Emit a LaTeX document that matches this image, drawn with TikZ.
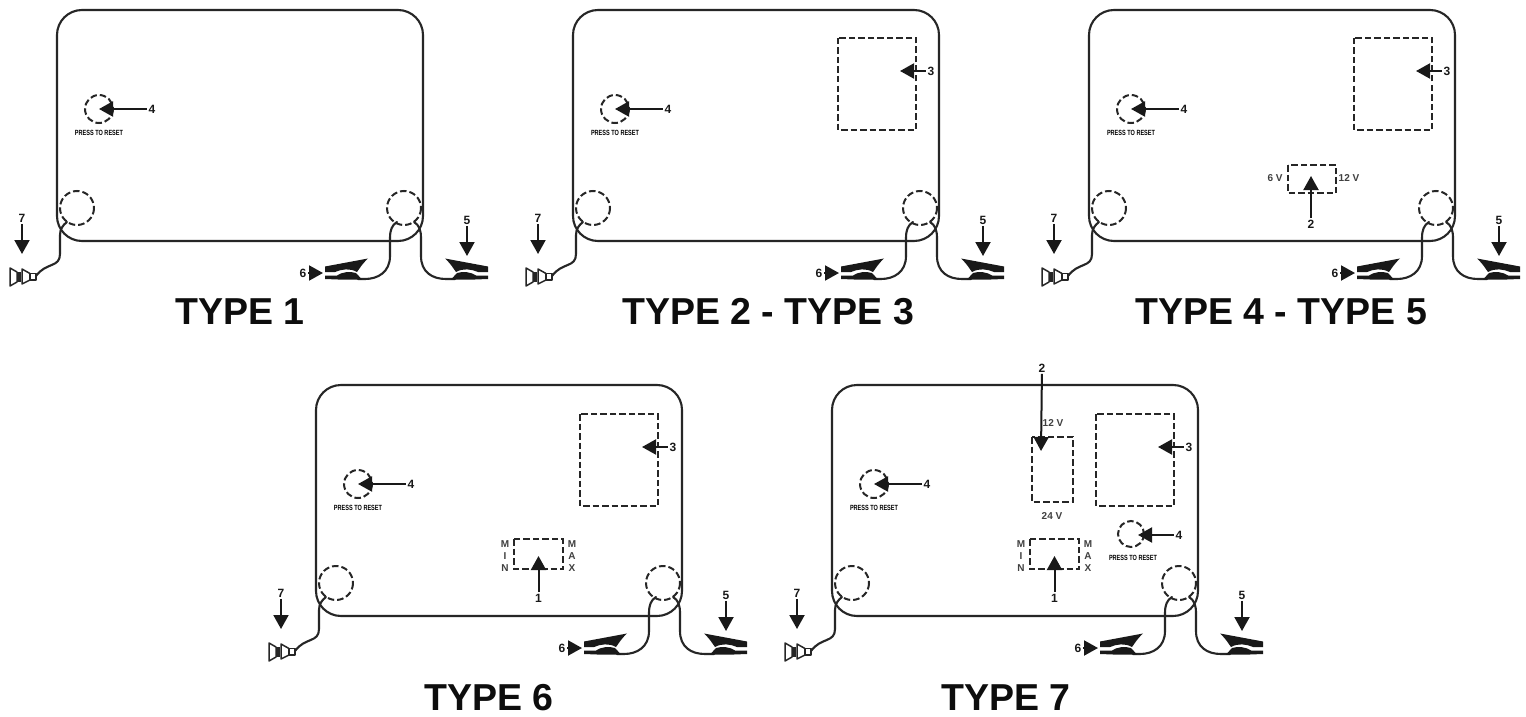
\documentclass[tikz,border=0pt]{standalone}
\usepackage{fontspec}
\setmainfont{Liberation Sans}
\usetikzlibrary{arrows.meta}
\tikzset{
  ln/.style={line width=2.1pt,color=black!85,line cap=round,line join=round},
  dsh/.style={line width=2pt,color=black!85,dash pattern=on 6.5pt off 3pt},
  callarrow/.style={line width=2pt,color=black!90,-{Triangle[length=14pt,width=15pt]},shorten <=0pt},
  num/.style={font=\bfseries\fontsize{12}{12}\selectfont,inner sep=1.5pt,color=black!90},
  volt/.style={font=\bfseries\fontsize{10}{11}\selectfont,inner sep=0pt,color=black!75},
  title/.style={font=\bfseries\fontsize{37.5}{37.5}\selectfont,inner sep=0pt,color=black!95},
  press/.style={font=\bfseries\fontsize{7.5}{8}\selectfont,inner sep=0pt,xscale=0.74,color=black,
     preaction={}},
  unit/.pic={
    \draw[ln,rounded corners=25pt] (57,10) rectangle (423,241);
    \node[draw=none,circle,minimum size=34pt,inner sep=0pt] (cl) at (77,208) {};
    \node[draw=none,circle,minimum size=34pt,inner sep=0pt] (cr) at (404,208) {};
    \draw[dsh] (77,208) circle[radius=17];
    \draw[dsh] (404,208) circle[radius=17];
    % plug
    \coordinate (plug) at (36,276);
    \draw[ln] (67,222) .. controls (63,225) and (60,229) .. (60,235) -- (60,254)
       .. controls (60,268) and (46,262) .. (plug);
    \draw[ln,line width=1.5pt] (10,268) -- (10,286) -- (17,282) -- (17,272) -- cycle;
    \fill[black!85] (17,272) rectangle (21,282);
    \draw[ln,line width=1.5pt] (22,269) -- (30,273.5) -- (30,280) -- (22,284) -- cycle;
    \draw[ln,line width=1.5pt] (30,273.5) rectangle (36,280);
    % clip 6
    \coordinate (c6) at (358,279);
    \draw[ln] (397,222) .. controls (392,225) and (390,230) .. (390,238) -- (390,256)
       .. controls (390,272) and (378,279) .. (365,279) -- (c6);
    \fill[black!90] (325,266.5) -- (368,258.5) .. controls (362,264) and (360,268) .. (357,272)
       .. controls (350,268) and (342,269) .. (335,272) -- (325,272) -- cycle;
    \fill[black!90] (325,275.5) -- (337,275.5) .. controls (342,272) and (350,271) .. (356,273) -- (362,279.5)
       -- (338,279.5) -- (325,279) -- cycle;
    % clip 5
    \coordinate (c5) at (455,279);
    \draw[ln] (414,222) .. controls (419,225) and (421,230) .. (421,238) -- (421,256)
       .. controls (421,272) and (432,279) .. (446,279) -- (c5);
    \fill[black!90] (488,266.5) -- (445,258.5) .. controls (451,264) and (453,268) .. (456,272)
       .. controls (463,268) and (471,269) .. (478,272) -- (488,272) -- cycle;
    \fill[black!90] (488,275.5) -- (476,275.5) .. controls (471,272) and (463,271) .. (457,273) -- (451,279.5)
       -- (475,279.5) -- (488,279) -- cycle;
    % callouts
    \node[num] (n7) at (22,218) {7};
    \coordinate (t7) at (22,254);
    \draw[callarrow] (n7) -- (t7);
    \node[num] (n5) at (467,220) {5};
    \coordinate (t5) at (467,256);
    \draw[callarrow] (n5) -- (t5);
    \node[num] (n6) at (303,273) {6};
    \coordinate (t6) at (323,273);
    \draw[callarrow] (n6) -- (t6);
    % reset
    \draw[dsh] (99,109) circle[radius=14];
    \node[num] (n4) at (152,109) {4};
    \coordinate (t4) at (99,109);
    \draw[callarrow] (n4) -- (t4);
    \node[press] (pr) at (99,133) {PRESS TO RESET};
  },
  bigbox/.pic={
    \draw[dsh] (322,38) rectangle (400,130);
    \node[num] (n3) at (415,71) {3};
    \coordinate (t3) at (384,71);
    \draw[callarrow] (n3) -- (t3);
  },
  minmax/.pic={
    \draw[dsh] (0,0) rectangle (49,30);
    \node[volt] (m1) at (-9,5) {M};
    \node[volt] (m2) at (-9,17) {I};
    \node[volt] (m3) at (-9,29) {N};
    \node[volt] (x1) at (58,5) {M};
    \node[volt] (x2) at (58,17) {A};
    \node[volt] (x3) at (58,29) {X};
    \node[num] (n1) at (24.5,59) {1};
    \coordinate (t1) at (24.5,17);
    \draw[callarrow] (n1) -- (t1);
  }
}
\begin{document}
\begin{tikzpicture}[x=1pt,y=-1pt]
\useasboundingbox (0,0) rectangle (1526,717);
\fill[white] (0,0) rectangle (1526,717);
% type 1
\pic (a) at (0,0) {unit};
\node[title] (ta) at (240,312) {TYPE 1};
% type 2-3
\pic (b) at (516,0) {unit};
\pic (bb) at (516,0) {bigbox};
\node[title] (tb) at (768,312) {TYPE 2 - TYPE 3};
% type 4-5
\pic (c) at (1032,0) {unit};
\pic (cb) at (1032,0) {bigbox};
\draw[dsh] (1288,165) rectangle (1336,193);
\node[volt] (c6v) at (1275,178) {6 V};
\node[volt] (c12v) at (1349,178) {12 V};
\node[num] (c2) at (1311,224) {2};
\coordinate (c2t) at (1311,176);
\draw[callarrow] (c2) -- (c2t);
\node[title] (tc) at (1281,312) {TYPE 4 - TYPE 5};
% type 6
\pic (d) at (259,375) {unit};
\pic (db) at (258,376) {bigbox};
\pic (dm) at (514,539) {minmax};
\node[title] (td) at (489,698) {TYPE 6};
% type 7
\pic (e) at (775,375) {unit};
\pic (eb) at (774,376) {bigbox};
\pic (em) at (1030,539) {minmax};
\draw[dsh] (1032,437) rectangle (1073,502);
\node[volt] (e12v) at (1053,423) {12 V};
\node[volt] (e24v) at (1052,516) {24 V};
\node[num] (e2) at (1042,368) {2};
\coordinate (e2t) at (1041,451);
\draw[callarrow] (e2) -- (e2t);
\draw[dsh] (1131,534) circle[radius=13];
\node[num] (e4) at (1179,535) {4};
\coordinate (e4t) at (1138,535);
\draw[callarrow] (e4) -- (e4t);
\node[press] (epr) at (1133,558) {PRESS TO RESET};
\node[title] (te) at (1006,698) {TYPE 7};
\end{tikzpicture}
\end{document}
